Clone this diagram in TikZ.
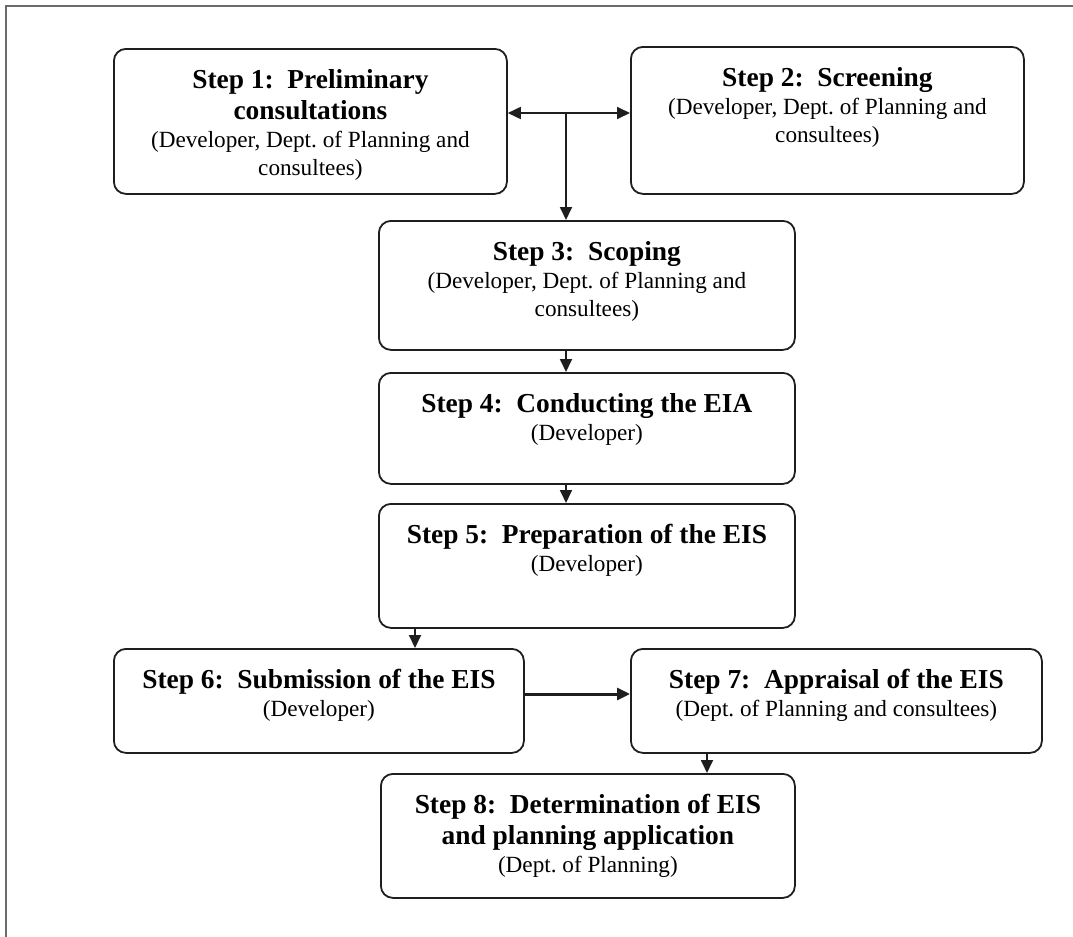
\documentclass[tikz,border=0pt]{standalone}
\usepackage{fontspec}
\setmainfont{Liberation Serif}
\usetikzlibrary{arrows.meta}
\definecolor{framegray}{HTML}{6A6A6A}
\definecolor{inkblack}{HTML}{1E1E1E}
\frenchspacing
\newcommand{\steptitlefont}{\fontsize{13.7}{15.5}\selectfont\bfseries}
\newcommand{\stepsubfont}{\fontsize{11.6}{13.8}\selectfont\mdseries}
\newcommand{\stepcard}[4]{\parbox[t][#2][t]{#1}{\centering\steptitlefont\rule{0pt}{20pt}#3\par\stepsubfont #4\par}}

\begin{document}
\begin{tikzpicture}[x=0.5pt, y=-0.5pt,
  stepbox/.style={draw=inkblack, line width=0.9pt, rounded corners=6pt, inner sep=0pt, anchor=north west},
  link/.style={draw=inkblack, line width=0.9pt, -{Triangle[length=6.5pt,width=6pt]}}]
\useasboundingbox (0,0) rectangle (1073,937);
\draw [framegray, line width=1pt] (5.5,937) -- (5.5,5.5) -- (1073,5.5);

% step boxes
\node [stepbox] (s1) at (113,48) {\stepcard{196.5pt}{72.5pt}{Step 1:~ Preliminary\\consultations}{(Developer, Dept. of Planning and\\consultees)}};
\node [stepbox] (s2) at (630,46) {\stepcard{196.5pt}{73.5pt}{Step 2:~ Screening}{(Developer, Dept. of Planning and\\consultees)}};
\node [stepbox] (s3) at (378,220) {\stepcard{208pt}{64.5pt}{Step 3:~ Scoping}{(Developer, Dept. of Planning and\\consultees)}};
\node [stepbox] (s4) at (378,372) {\stepcard{208pt}{55.5pt}{Step 4:~ Conducting the EIA}{(Developer)}};
\node [stepbox] (s5) at (378,503) {\stepcard{208pt}{62pt}{Step 5:~ Preparation of the EIS}{(Developer)}};
\node [stepbox] (s6) at (113,648) {\stepcard{205pt}{52pt}{Step 6:~ Submission of the EIS}{(Developer)}};
\node [stepbox] (s7) at (630,648) {\stepcard{205.5pt}{52pt}{Step 7:~ Appraisal of the EIS}{(Dept. of Planning and consultees)}};
\node [stepbox] (s8) at (380,773) {\stepcard{207pt}{62pt}{Step 8:~ Determination of EIS\\and planning application}{(Dept. of Planning)}};

% connectors
\coordinate (hub) at (566,113);
\coordinate (drop6) at (415,637);
\coordinate (link67) at (576,694);
\coordinate (drop8) at (707,762);

\draw [link, {Triangle[length=6.5pt,width=6pt]}-{Triangle[length=6.5pt,width=6pt]}] (hub -| s1.east) -- (hub -| s2.west);
\draw [link] (hub) -- (hub |- s3.north);
\draw [link] (hub |- s3.south) -- (hub |- s4.north);
\draw [link] (hub |- s4.south) -- (hub |- s5.north);
\draw [link] (drop6 |- s5.south) -- (drop6 |- s6.north);
\draw [link, line width=1.5pt] (link67 -| s6.east) -- (link67 -| s7.west);
\draw [link] (drop8 |- s7.south) -- (drop8 |- s8.north);

\end{tikzpicture}
\end{document}
